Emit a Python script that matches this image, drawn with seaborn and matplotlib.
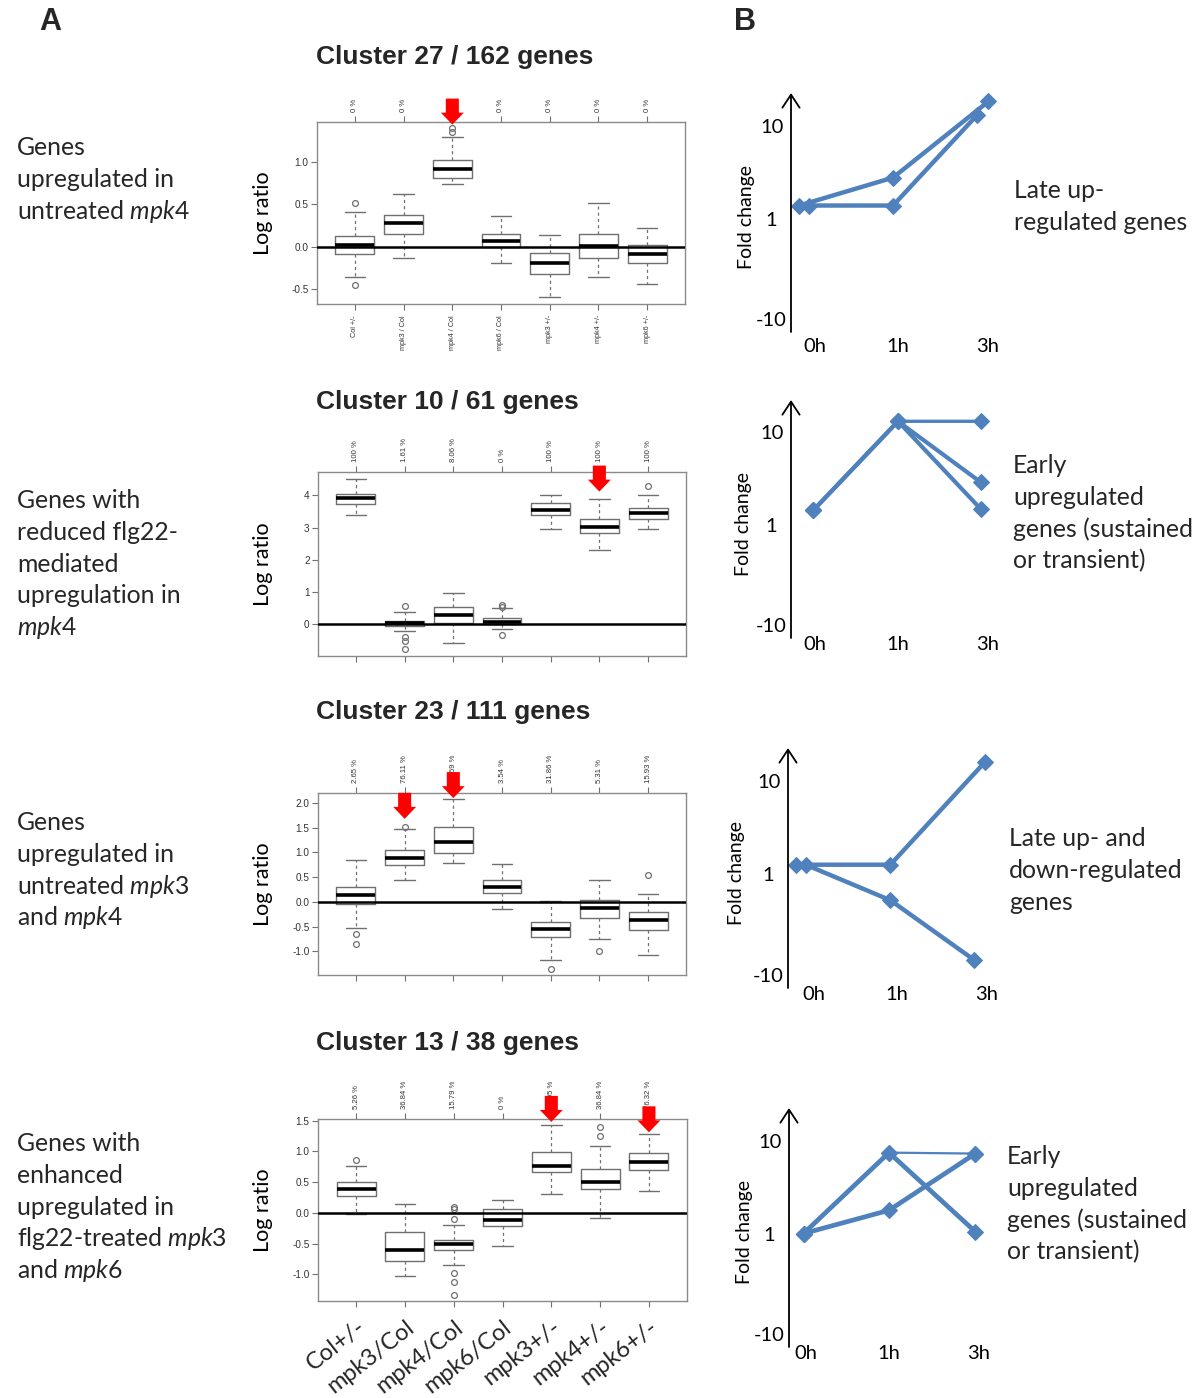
import matplotlib
matplotlib.use("Agg")
import matplotlib.pyplot as plt
import seaborn as sns

sns.set_theme(style="white")
plt.rcParams["font.family"] = ["Liberation Sans", "DejaVu Sans"]
plt.rcParams["mathtext.fontset"] = "custom"
plt.rcParams["mathtext.rm"] = "Lato"
plt.rcParams["mathtext.it"] = "Lato:italic"

SANS = "Lato"
BLUE = "#4F81BD"
GREY = "#707070"
W, H = 1200, 1398

conditions = ["Col +/-", "mpk3 / Col", "mpk4 / Col", "mpk6 / Col",
              "mpk3 +/-", "mpk4 +/-", "mpk6 +/-"]
conditions_big = ["Col+/-", "mpk3/Col", "mpk4/Col", "mpk6/Col",
                  "mpk3+/-", "mpk4+/-", "mpk6+/-"]

# ---- panel A : box statistics ----
c27_lo = [-0.36, -0.13, 0.74, -0.20, -0.60, -0.36, -0.44]
c27_q1 = [-0.09, 0.15, 0.81, 0.00, -0.32, -0.13, -0.20]
c27_med = [0.02, 0.28, 0.92, 0.07, -0.19, 0.01, -0.09]
c27_q3 = [0.13, 0.38, 1.02, 0.15, -0.08, 0.15, 0.02]
c27_hi = [0.41, 0.62, 1.30, 0.36, 0.14, 0.52, 0.22]
c27_out = [[0.52, -0.46], [], [1.36, 1.41], [], [], [], []]
c27_pct = ["0 %"] * 7
c27_arrow = [3]
c27_arrow_tip = [1.445]

c10_lo = [3.38, -0.22, -0.60, -0.15, 2.94, 2.29, 2.97]
c10_q1 = [3.72, -0.06, 0.04, -0.01, 3.38, 2.83, 3.26]
c10_med = [3.91, 0.04, 0.27, 0.07, 3.54, 3.01, 3.45]
c10_q3 = [4.04, 0.10, 0.53, 0.17, 3.76, 3.26, 3.62]
c10_hi = [4.51, 0.36, 0.97, 0.48, 4.01, 3.89, 4.02]
c10_out = [[], [0.56, -0.40, -0.52, -0.77], [], [0.59, 0.54, -0.34], [], [], [4.29]]
c10_pct = ["100 %", "1.61 %", "8.06 %", "0 %", "100 %", "100 %", "100 %"]
c10_arrow = [6]
c10_arrow_tip = [4.12]

c23_lo = [-0.53, 0.44, 0.78, -0.15, -1.18, -0.76, -1.07]
c23_q1 = [-0.05, 0.75, 0.99, 0.17, -0.72, -0.33, -0.57]
c23_med = [0.14, 0.88, 1.22, 0.30, -0.55, -0.13, -0.36]
c23_q3 = [0.31, 1.04, 1.51, 0.44, -0.40, 0.04, -0.21]
c23_hi = [0.85, 1.47, 2.08, 0.76, 0.01, 0.45, 0.16]
c23_out = [[-0.65, -0.85], [1.51], [], [], [-1.36], [-0.99], [0.55]]
c23_pct = ["2.65 %", "76.11 %", "94.69 %", "3.54 %", "31.86 %", "5.31 %", "15.93 %"]
c23_arrow = [2, 3]
c23_arrow_tip = [1.68, 2.10]

c13_lo = [-0.02, -1.02, -0.85, -0.54, 0.31, -0.09, 0.35]
c13_q1 = [0.27, -0.79, -0.61, -0.21, 0.67, 0.39, 0.70]
c13_med = [0.39, -0.61, -0.50, -0.11, 0.77, 0.50, 0.83]
c13_q3 = [0.50, -0.32, -0.44, 0.06, 0.99, 0.71, 0.97]
c13_hi = [0.77, 0.15, -0.20, 0.21, 1.43, 1.08, 1.28]
c13_out = [[0.86], [], [0.09, 0.06, -0.10, -0.98, -1.12, -1.34], [], [], [1.40, 1.25], []]
c13_pct = ["5.26 %", "36.84 %", "15.79 %", "0 %", "71.05 %", "36.84 %", "76.32 %"]
c13_arrow = [5, 7]
c13_arrow_tip = [1.48, 1.31]

clusters = [
    ("Cluster 27 / 162 genes", c27_lo, c27_q1, c27_med, c27_q3, c27_hi, c27_out,
     c27_pct, c27_arrow, c27_arrow_tip),
    ("Cluster 10 / 61 genes", c10_lo, c10_q1, c10_med, c10_q3, c10_hi, c10_out,
     c10_pct, c10_arrow, c10_arrow_tip),
    ("Cluster 23 / 111 genes", c23_lo, c23_q1, c23_med, c23_q3, c23_hi, c23_out,
     c23_pct, c23_arrow, c23_arrow_tip),
    ("Cluster 13 / 38 genes", c13_lo, c13_q1, c13_med, c13_q3, c13_hi, c13_out,
     c13_pct, c13_arrow, c13_arrow_tip),
]

# layout of the box panels (pixels: left, top, right, bottom), limits, ticks
a_rects = [(317, 122, 685, 304), (318, 472, 686, 656),
           (318, 793, 686, 975), (318, 1119, 687, 1301)]
a_ylims = [(-0.68, 1.476), (-1.0, 4.73), (-1.48, 2.203), (-1.435, 1.527)]
a_yticks = [[-0.5, 0.0, 0.5, 1.0], [0, 1, 2, 3, 4],
            [-1.0, -0.5, 0.0, 0.5, 1.0, 1.5, 2.0], [-1.0, -0.5, 0.0, 0.5, 1.0, 1.5]]
a_ytick_fmt = ["{:.1f}", "{:.0f}", "{:.1f}", "{:.1f}"]
a_title_y = [57, 402, 712, 1043]

left_blocks = [
    (["Genes", "upregulated in", r"untreated $\mathit{mpk4}$"], 149),
    (["Genes with", "reduced flg22-", "mediated", "upregulation in",
      r"$\mathit{mpk4}$"], 502),
    (["Genes", "upregulated in", r"untreated $\mathit{mpk3}$",
      r"and $\mathit{mpk4}$"], 824),
    (["Genes with", "enhanced", "upregulated in",
      r"flg22-treated $\mathit{mpk3}$", r"and $\mathit{mpk6}$"], 1145),
]

# ---- panel B : schematic fold-change profiles ----
time_labels = ["0h", "1h", "3h"]
time_pos = [0, 1, 2.08]
fold_labels = ["10", "1", "-10"]
fold_pos = [1, 0, -1.08]

b1_x = [[-0.19, 0.94, 2.09], [-0.07, 0.94, 1.95]]
b1_y = [[0.14, 0.44, 1.26], [0.14, 0.14, 1.11]]
b1_lw = [3.2, 3.2]
b2_x = [[-0.02, 1.0, 2.0], [-0.02, 1.0, 2.0], [-0.02, 1.0, 2.0]]
b2_y = [[0.16, 1.12, 1.12], [0.16, 1.12, 0.46], [0.16, 1.12, 0.17]]
b2_lw = [2.4, 3.0, 3.0]
b3_x = [[-0.22, 0.92, 2.06], [-0.10, 0.92, 1.93]]
b3_y = [[0.10, 0.10, 1.20], [0.10, -0.28, -0.92]]
b3_lw = [3.2, 3.2]
b4_x = [[-0.03, 1.0, 2.04], [-0.03, 1.0, 2.04], [-0.03, 1.0, 2.04]]
b4_y = [[0.0, 0.87, 0.86], [0.0, 0.87, 0.02], [0.0, 0.25, 0.86]]
b4_lw = [1.6, 3.4, 3.4]

b_series = [(b1_x, b1_y, b1_lw), (b2_x, b2_y, b2_lw),
            (b3_x, b3_y, b3_lw), (b4_x, b4_y, b4_lw)]
# pixels: axis x, top, bottom, x of 0h; y label right edge; xtick pad
b_rects = [(791, 93, 332, 815, 755, 4.0), (791, 400, 638, 815, 752, -1.5),
           (788, 748, 988, 814, 745, -1.5), (789, 1108, 1347, 806, 753, -1.5)]
b_unit = 83.0

right_blocks = [
    (["Late up-", "regulated genes"], 1014, 192),
    (["Early", "upregulated", "genes (sustained", "or transient)"], 1013, 467),
    (["Late up- and", "down-regulated", "genes"], 1009, 840),
    (["Early", "upregulated", "genes (sustained", "or transient)"], 1007, 1158),
]

LINE = 31.8
TXT = 17.8


def frac_rect(l, t, r, b):
    return [l / W, 1 - b / H, (r - l) / W, (b - t) / H]


fig = plt.figure(figsize=(12, 13.98), dpi=100)
fig.patch.set_facecolor("white")

fig.text(50 / W, 1 - 22 / H, "A", fontsize=22, fontweight="bold", ha="center", va="center")
fig.text(745 / W, 1 - 22 / H, "B", fontsize=22, fontweight="bold", ha="center", va="center")

positions = list(range(1, 8))

for i, (title, lo, q1, med, q3, hi, out, pct, arr, tip) in enumerate(clusters):
    ax = fig.add_axes(frac_rect(*a_rects[i]))
    stats = [dict(whislo=a, q1=b, med=c, q3=d, whishi=e, fliers=f)
             for a, b, c, d, e, f in zip(lo, q1, med, q3, hi, out)]
    ax.bxp(stats, positions=positions, widths=0.8, capwidths=0.42,
           boxprops=dict(color=GREY, lw=1.0),
           medianprops=dict(color="black", lw=2.6, solid_capstyle="butt"),
           whiskerprops=dict(color=GREY, lw=0.9, ls=(0, (2.5, 2.5))),
           capprops=dict(color=GREY, lw=1.0),
           flierprops=dict(marker="o", markerfacecolor="none",
                           markeredgecolor=GREY, markersize=4.2, markeredgewidth=0.9))
    ax.axhline(0, color="black", lw=1.8, zorder=4)
    ax.set_xlim(0.22, 7.78)
    ax.set_ylim(*a_ylims[i])
    ax.set_yticks(a_yticks[i], labels=[a_ytick_fmt[i].format(v) for v in a_yticks[i]])
    for sp in ax.spines.values():
        sp.set_color("#8a8a8a")
        sp.set_linewidth(1.0)
    ax.tick_params(axis="y", left=True, length=4, width=0.8, color=GREY,
                   labelsize=7.2, labelcolor="#333333", pad=2)
    ax.tick_params(axis="x", bottom=True, length=4, width=0.8, color=GREY)
    if i == 0:
        ax.set_xticks(positions, labels=conditions, rotation=90, fontsize=5.2,
                      color="#333333")
        ax.tick_params(axis="x", pad=4)
    elif i == 3:
        ax.set_xticks(positions, labels=conditions_big)
        for lab in ax.get_xticklabels():
            lab.set_family(SANS)
            lab.set_fontsize(17)
            lab.set_rotation(38)
            lab.set_ha("right")
            lab.set_va("top")
            lab.set_rotation_mode("anchor")
        ax.tick_params(axis="x", pad=7)
    else:
        ax.set_xticks(positions, labels=[""] * 7)

    sec = ax.secondary_xaxis("top")
    sec.set_xticks(positions, labels=pct)
    sec.tick_params(length=4, width=0.8, color=GREY, labelsize=5.6,
                    labelcolor="#333333", labelrotation=90, pad=3.5)
    sec.spines["top"].set_visible(False)

    ax.set_ylabel("Log ratio", family=SANS, fontsize=15.5, color="black")
    ax.yaxis.set_label_coords((273 - a_rects[i][0]) / (a_rects[i][2] - a_rects[i][0]), 0.5)

    for k, t in zip(arr, tip):
        ax.annotate("", xy=(k, t), xytext=(0, 26), textcoords="offset pixels",
                    annotation_clip=False, zorder=6,
                    arrowprops=dict(arrowstyle="simple,head_width=1.65,head_length=0.86,tail_width=0.94",
                                    mutation_scale=10, color="#ff0000", lw=0,
                                    shrinkA=0, shrinkB=0))

    fig.text(316 / W, 1 - a_title_y[i] / H, title, fontsize=19, fontweight="bold",
             ha="left", va="center")

    lines, y0 = left_blocks[i]
    for j, line in enumerate(lines):
        fig.text(17 / W, 1 - (y0 + j * LINE + 6) / H, line, family=SANS,
                 fontsize=TXT, ha="left", va="baseline")

for i, (xs, ys, lws) in enumerate(b_series):
    axis_x, top, bottom, zero_x, ylab_px, xpad = b_rects[i]
    right = 1000
    ax = fig.add_axes(frac_rect(axis_x, top, right, bottom))
    ax.set_facecolor("none")
    for sx, sy, lw in zip(xs, ys, lws):
        sns.lineplot(x=sx, y=sy, ax=ax, color=BLUE, lw=lw, marker="D",
                     markersize=8, markeredgecolor=BLUE, markerfacecolor=BLUE,
                     sort=False, clip_on=False, legend=False)
    ax.set_xlim(-(zero_x - axis_x) / b_unit, (right - zero_x) / b_unit)
    ax.set_ylim(-1.22, 1.35)
    for sp in ax.spines.values():
        sp.set_visible(False)
    ax.set_yticks(fold_pos, labels=fold_labels)
    ax.set_xticks(time_pos, labels=time_labels)
    for lab in ax.get_yticklabels():
        lab.set_ha("center")
    ax.tick_params(axis="y", length=0, pad=14, labelsize=14.5)
    ax.tick_params(axis="x", length=0, pad=xpad, labelsize=14.5)
    for lab in ax.get_xticklabels() + ax.get_yticklabels():
        lab.set_family(SANS)
        lab.set_color("black")
    ax.annotate("", xy=(0, 1), xytext=(0, 0), xycoords="axes fraction",
                textcoords="axes fraction",
                arrowprops=dict(arrowstyle="->,head_width=0.31,head_length=0.47",
                                mutation_scale=20, color="black", lw=1.3,
                                shrinkA=0, shrinkB=0))
    ax.set_ylabel("Fold change", family=SANS, fontsize=14, color="black")
    ax.yaxis.set_label_coords((ylab_px - axis_x) / (right - axis_x), 0.48)

    lines, x0, y0 = right_blocks[i]
    for j, line in enumerate(lines):
        fig.text(x0 / W, 1 - (y0 + j * LINE + 6) / H, line, family=SANS,
                 fontsize=TXT, ha="left", va="baseline")

fig.savefig("out.png", dpi=100, facecolor="white")
